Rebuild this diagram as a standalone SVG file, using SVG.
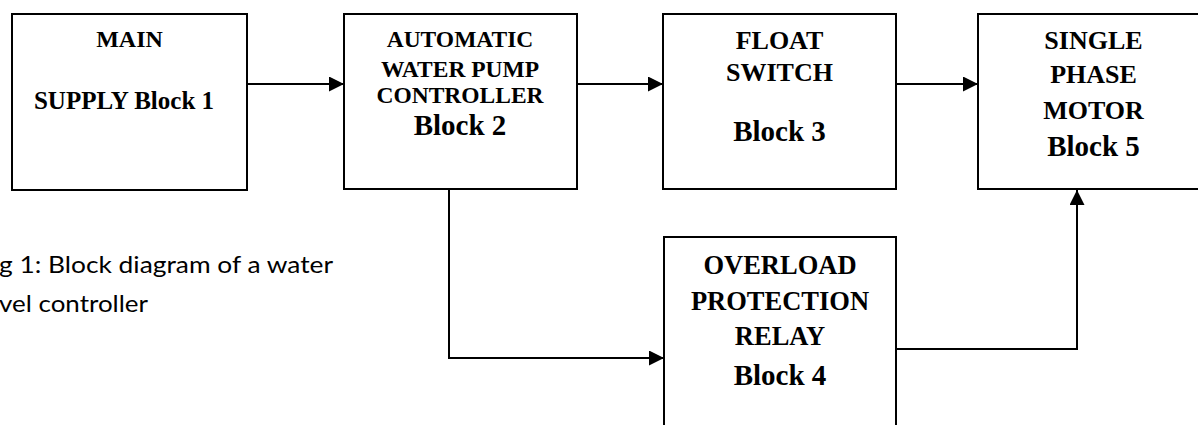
<svg xmlns="http://www.w3.org/2000/svg" width="1198" height="425" viewBox="0 0 1198 425">
<style>
.box{fill:#fff;stroke:#000;stroke-width:2}
.t{font-family:"Liberation Serif","Times New Roman",serif;font-weight:bold;fill:#000;text-anchor:middle}
.cap{font-family:Lato,"Open Sans",sans-serif;font-size:24px;fill:#000}
.conn{fill:none;stroke:#000;stroke-width:2}
</style>
<defs>
<marker id="arr" markerUnits="userSpaceOnUse" viewBox="0 0 15 15" refX="15" refY="7.5" markerWidth="15" markerHeight="15" orient="auto">
<path d="M0,0 L15,7.5 L0,15 Z" fill="#000"/>
</marker>
</defs>
<rect width="1198" height="425" fill="#fff"/>
<g id="connectors">
<path class="conn" d="M247,84 H344" marker-end="url(#arr)"/>
<path class="conn" d="M577,84 H663" marker-end="url(#arr)"/>
<path class="conn" d="M896,84 H978" marker-end="url(#arr)"/>
<path class="conn" d="M449,189 V358 H664" marker-end="url(#arr)"/>
<path class="conn" d="M896,349 H1077 V190" marker-end="url(#arr)"/>
</g>
<g id="block1">
<rect class="box" x="12" y="14" width="235" height="176"/>
<text class="t" x="129.5" y="47" font-size="24">MAIN</text>
<text class="t" x="124" y="109" font-size="25">SUPPLY Block 1</text>
</g>
<g id="block2">
<rect class="box" x="344" y="14" width="233" height="175"/>
<text class="t" x="460" y="47" font-size="23.5">AUTOMATIC</text>
<text class="t" x="460" y="77" font-size="23.5">WATER PUMP</text>
<text class="t" x="460" y="103" font-size="23.5">CONTROLLER</text>
<text class="t" x="460" y="135" font-size="29">Block 2</text>
</g>
<g id="block3">
<rect class="box" x="663" y="14" width="233" height="175"/>
<text class="t" x="779.5" y="49" font-size="26">FLOAT</text>
<text class="t" x="779.5" y="81" font-size="26">SWITCH</text>
<text class="t" x="779.5" y="141" font-size="29">Block 3</text>
</g>
<g id="block5">
<rect class="box" x="978" y="14" width="232" height="175"/>
<text class="t" x="1093.5" y="49" font-size="26">SINGLE</text>
<text class="t" x="1093.5" y="83" font-size="26">PHASE</text>
<text class="t" x="1093.5" y="119" font-size="26">MOTOR</text>
<text class="t" x="1093.5" y="156" font-size="29">Block 5</text>
</g>
<g id="block4">
<rect class="box" x="664" y="237" width="232" height="210"/>
<text class="t" x="780" y="274" font-size="26.5">OVERLOAD</text>
<text class="t" x="780" y="310" font-size="26.5">PROTECTION</text>
<text class="t" x="780" y="345" font-size="26.5">RELAY</text>
<text class="t" x="780" y="385" font-size="29">Block 4</text>
</g>
<g id="caption">
<text class="cap" x="-1" y="273" textLength="334" lengthAdjust="spacingAndGlyphs">g 1: Block diagram of a water</text>
<text class="cap" x="-1" y="312" textLength="149" lengthAdjust="spacingAndGlyphs">vel controller</text>
</g>
</svg>
